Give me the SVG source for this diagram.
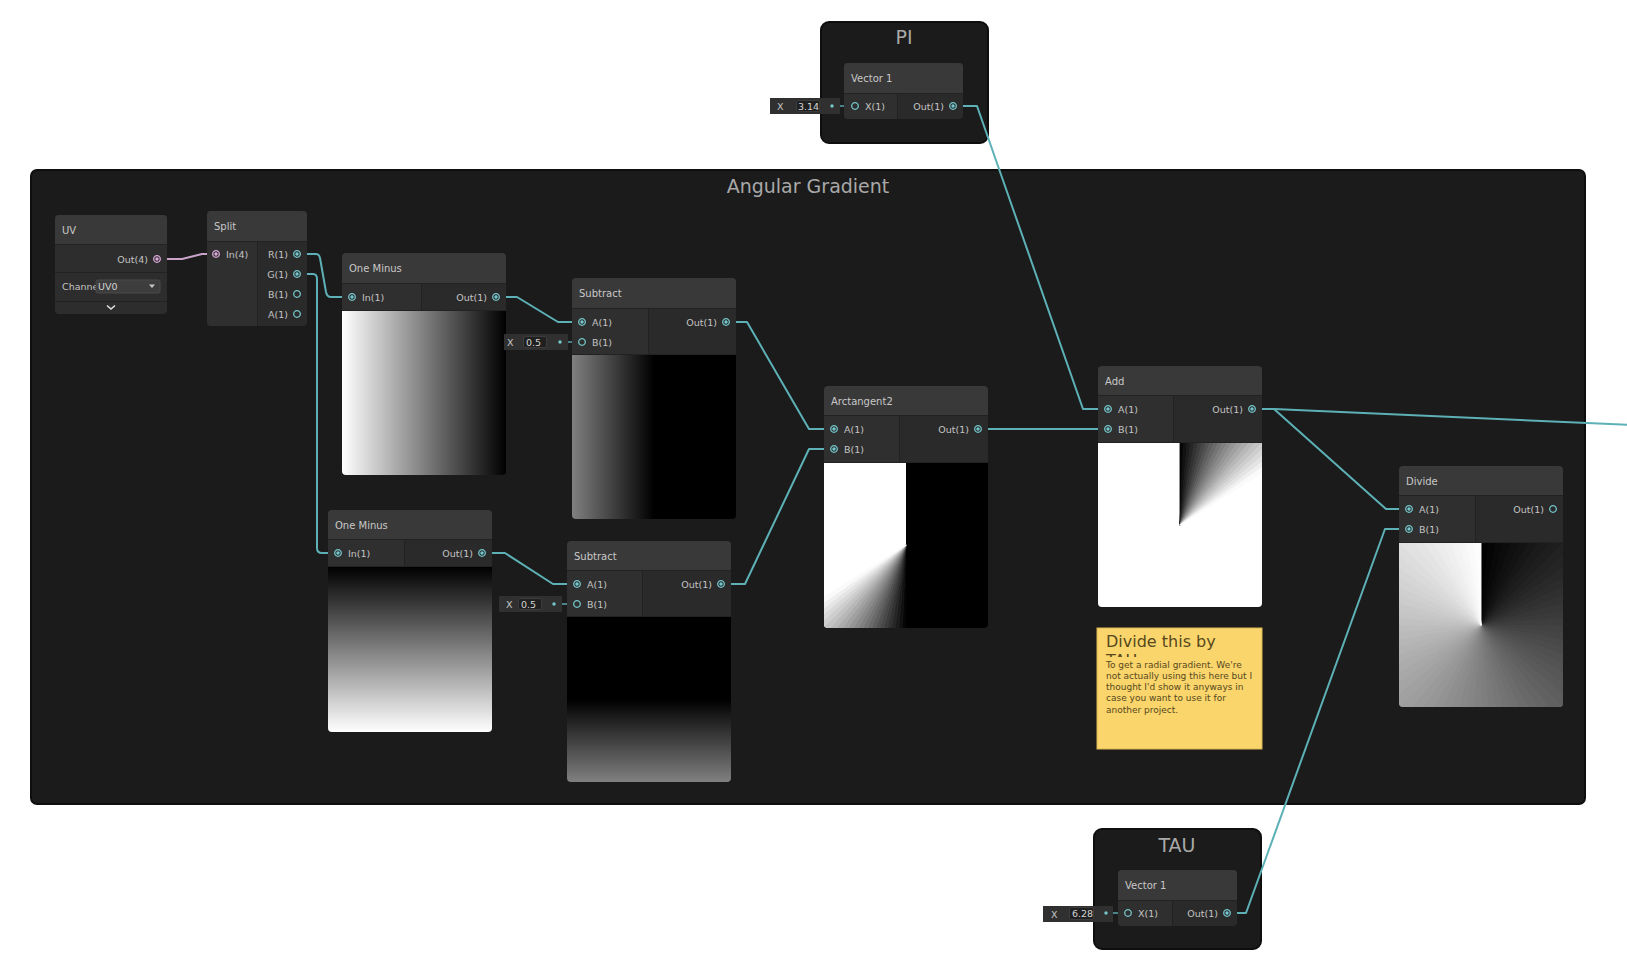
<svg xmlns="http://www.w3.org/2000/svg" xmlns:xlink="http://www.w3.org/1999/xlink" width="1627" height="970" viewBox="0 0 1627 970">
<style>
.grp{fill:#1b1b1b;stroke:#0e0e0e;stroke-width:2}
.gt{font-family:"DejaVu Sans",sans-serif;font-size:19px;fill:#a9a9a9;text-anchor:middle}
.hd{fill:#393939}
.ic{fill:#2f2f2f}
.oc{fill:#2a2a2a}
.bd{fill:#2d2d2d}
.sep{stroke:#222;stroke-width:1;fill:none}
.t{font-family:"DejaVu Sans",sans-serif;font-size:10px;fill:#c8c8c8}
.p{font-family:"DejaVu Sans",sans-serif;font-size:9.5px;fill:#c4c4c4}
.r{text-anchor:end}
.e{fill:none;stroke:#5db1b6;stroke-width:2;stroke-linejoin:round;stroke-linecap:round}
.es{fill:none;stroke:#5db1b6;stroke-width:1.4}
.pr{fill:none;stroke:#74c7cc;stroke-width:1.3}
.pd{fill:#74c7cc}
.fld{fill:#303030}
.fbx{fill:#202020;stroke:#3c3c3c;stroke-width:1}
.fv{font-family:"DejaVu Sans",sans-serif;font-size:9.5px;fill:#d4d4d4}
.st{font-family:"DejaVu Sans",sans-serif;fill:#56481c}
.wg{fill:currentColor;stroke:currentColor;stroke-width:0.9;stroke-linejoin:round}
</style>
<defs>
<g id="pc"><circle class="pr" r="3.3"/><circle class="pd" r="1.7"/></g>
<circle id="po" class="pr" r="3.3"/>
<g id="pp"><circle r="3.3" fill="none" stroke="#d8a8d8" stroke-width="1.3"/><circle r="1.7" fill="#d8a8d8"/></g>
<path id="w25" class="wg" d="M0 0L0 -200L8.72 -199.81Z"/>
<path id="w5" class="wg" d="M0 0L0 -200L17.43 -199.24Z"/>
<linearGradient id="gOM1" x1="0" y1="0" x2="1" y2="0"><stop offset="0" stop-color="#fff"/><stop offset="1" stop-color="#000"/></linearGradient>
<linearGradient id="gS1" x1="0" y1="0" x2="1" y2="0"><stop offset="0" stop-color="#808080"/><stop offset="0.5" stop-color="#000"/><stop offset="1" stop-color="#000"/></linearGradient>
<linearGradient id="gOM2" x1="0" y1="0" x2="0" y2="1"><stop offset="0" stop-color="#000"/><stop offset="1" stop-color="#fff"/></linearGradient>
<linearGradient id="gS2" x1="0" y1="0" x2="0" y2="1"><stop offset="0" stop-color="#000"/><stop offset="0.5" stop-color="#000"/><stop offset="1" stop-color="#808080"/></linearGradient>
<clipPath id="cAt"><path d="M824 463H988V624Q988 628 984 628H828Q824 628 824 624Z"/></clipPath>
<clipPath id="cAdd"><path d="M1098 443H1262V603Q1262 607 1258 607H1102Q1098 607 1098 603Z"/></clipPath>
<clipPath id="cDiv"><path d="M1399 543H1563V703Q1563 707 1559 707H1403Q1399 707 1399 703Z"/></clipPath>
<clipPath id="cCh"><rect x="55" y="272" width="41" height="29"/></clipPath>
<clipPath id="cTau"><rect x="1070" y="900" width="23" height="20"/></clipPath>
<clipPath id="cNote"><rect x="1097" y="628" width="165" height="29"/></clipPath>
</defs>

<rect width="1627" height="970" fill="#ffffff"/>

<g id="group-angular-gradient">
<rect class="grp" x="31" y="170" width="1554" height="634" rx="6"/>
<text class="gt" x="808" y="193">Angular Gradient</text>
</g>
<g id="group-pi">
<rect class="grp" x="821" y="22" width="167" height="121" rx="8"/>
<text class="gt" x="904" y="44">PI</text>
</g>
<g id="group-tau">
<rect class="grp" x="1094" y="829" width="167" height="120" rx="8"/>
<text class="gt" x="1177" y="852">TAU</text>
</g>

<g id="connectors">
<path d="M157 259H182L202 254H216" fill="none" stroke="#c9a3c9" stroke-width="2" stroke-linejoin="round"/>
<path class="e" d="M297 254H316Q319 254 320 258L326 292Q327 297 331 297H352"/>
<path class="e" d="M297 274H313Q317 274 317 279V548Q317 553 322 553H338"/>
<path class="e" d="M496 297H517L558 322H582"/>
<path class="e" d="M482 553H505L553 584H577"/>
<path class="e" d="M726 322H747L809 429H834"/>
<path class="e" d="M721 584H745L809 449H834"/>
<path class="e" d="M978 429H1108"/>
<path class="e" d="M953 106H977L1083 409H1108"/>
<path class="e" d="M1252 409H1274L1386 509H1409"/>
<path class="e" d="M1252 409H1274L1630 425"/>
<path class="e" d="M1227 913H1246L1385 529H1409"/>
<path class="es" d="M832 106H855"/>
<path class="es" d="M560 342H582"/>
<path class="es" d="M554 604H577"/>
<path class="es" d="M1106 913H1128"/>
</g>

<g id="node-uv">
<rect class="bd" x="55" y="215" width="112" height="99" rx="4"/>
<path class="hd" d="M55 244V219Q55 215 59 215H163Q167 215 167 219V244Z"/>
<path class="sep" d="M55 244.5H167M55 272.5H167M55 301.5H167"/>
<text class="t" x="62" y="234">UV</text>
<text class="p r" x="148" y="262.5">Out(4)</text>
<use href="#pp" x="157" y="259"/>
<text class="p" x="62" y="290" clip-path="url(#cCh)">Channel</text>
<rect x="96" y="280" width="64" height="13" rx="1.5" fill="#3d3d3d" stroke="#4a4a4a" stroke-width="1"/>
<text class="fv" x="98" y="290">UV0</text>
<polygon points="149,284.5 155,284.5 152,288" fill="#c8c8c8"/>
<polyline points="107,305.5 111,309 115,305.5" fill="none" stroke="#e0e0e0" stroke-width="1.6"/>
</g>

<g id="node-split">
<rect class="oc" x="207" y="211" width="100" height="115" rx="4"/>
<path class="hd" d="M207 241V215Q207 211 211 211H303Q307 211 307 215V241Z"/>
<path class="ic" d="M207 241H257V326H211Q207 326 207 322Z"/>
<path class="sep" d="M207 241.5H307M257.5 241V326"/>
<text class="t" x="214" y="230">Split</text>
<use href="#pp" x="216" y="254"/>
<text class="p" x="226" y="257.5">In(4)</text>
<text class="p r" x="288" y="257.5">R(1)</text>
<text class="p r" x="288" y="277.5">G(1)</text>
<text class="p r" x="288" y="297.5">B(1)</text>
<text class="p r" x="288" y="317.5">A(1)</text>
<use href="#pc" x="297" y="254"/>
<use href="#pc" x="297" y="274"/>
<use href="#po" x="297" y="294"/>
<use href="#po" x="297" y="314"/>
</g>

<g id="node-one-minus-1">
<path class="hd" d="M342 283V257Q342 253 346 253H502Q506 253 506 257V283Z"/>
<rect class="ic" x="342" y="283" width="79" height="28"/>
<rect class="oc" x="421" y="283" width="85" height="28"/>
<path class="sep" d="M342 283.5H506M421.5 283V311M342 310.5H506"/>
<path fill="url(#gOM1)" d="M342 311H506V471Q506 475 502 475H346Q342 475 342 471Z"/>
<text class="t" x="349" y="272">One Minus</text>
<use href="#pc" x="352" y="297"/>
<text class="p" x="362" y="300.5">In(1)</text>
<text class="p r" x="487" y="300.5">Out(1)</text>
<use href="#pc" x="496" y="297"/>
</g>

<g id="node-subtract-1">
<path class="hd" d="M572 308V282Q572 278 576 278H732Q736 278 736 282V308Z"/>
<rect class="ic" x="572" y="308" width="76" height="47"/>
<rect class="oc" x="648" y="308" width="88" height="47"/>
<path class="sep" d="M572 308.5H736M648.5 308V355M572 354.5H736"/>
<path fill="url(#gS1)" d="M572 355H736V515Q736 519 732 519H576Q572 519 572 515Z"/>
<text class="t" x="579" y="297">Subtract</text>
<use href="#pc" x="582" y="322"/>
<text class="p" x="592" y="325.5">A(1)</text>
<use href="#po" x="582" y="342"/>
<text class="p" x="592" y="345.5">B(1)</text>
<text class="p r" x="717" y="325.5">Out(1)</text>
<use href="#pc" x="726" y="322"/>
<rect class="fld" x="504" y="334" width="64" height="16"/>
<text class="p" x="507" y="345.5">X</text>
<rect class="fbx" x="523.5" y="336.5" width="23" height="11" rx="1.5"/>
<text class="fv" x="526" y="345.5">0.5</text>
<circle class="pd" cx="560" cy="342" r="1.7"/>
</g>

<g id="node-one-minus-2">
<path class="hd" d="M328 539V514Q328 510 332 510H488Q492 510 492 514V539Z"/>
<rect class="ic" x="328" y="539" width="76" height="28"/>
<rect class="oc" x="404" y="539" width="88" height="28"/>
<path class="sep" d="M328 539.5H492M404.5 539V567M328 566.5H492"/>
<path fill="url(#gOM2)" d="M328 567H492V728Q492 732 488 732H332Q328 732 328 728Z"/>
<text class="t" x="335" y="528.5">One Minus</text>
<use href="#pc" x="338" y="553"/>
<text class="p" x="348" y="556.5">In(1)</text>
<text class="p r" x="473" y="556.5">Out(1)</text>
<use href="#pc" x="482" y="553"/>
</g>

<g id="node-subtract-2">
<path class="hd" d="M567 570V545Q567 541 571 541H727Q731 541 731 545V570Z"/>
<rect class="ic" x="567" y="570" width="75" height="47"/>
<rect class="oc" x="642" y="570" width="89" height="47"/>
<path class="sep" d="M567 570.5H731M642.5 570V617M567 616.5H731"/>
<path fill="url(#gS2)" d="M567 617H731V778Q731 782 727 782H571Q567 782 567 778Z"/>
<text class="t" x="574" y="559.5">Subtract</text>
<use href="#pc" x="577" y="584"/>
<text class="p" x="587" y="587.5">A(1)</text>
<use href="#po" x="577" y="604"/>
<text class="p" x="587" y="607.5">B(1)</text>
<text class="p r" x="712" y="587.5">Out(1)</text>
<use href="#pc" x="721" y="584"/>
<rect class="fld" x="499" y="596" width="63" height="16"/>
<text class="p" x="506" y="607.5">X</text>
<rect class="fbx" x="518.5" y="598.5" width="23" height="11" rx="1.5"/>
<text class="fv" x="521" y="607.5">0.5</text>
<circle class="pd" cx="554" cy="604" r="1.7"/>
</g>

<g id="node-arctangent2">
<path class="hd" d="M824 415V390Q824 386 828 386H984Q988 386 988 390V415Z"/>
<rect class="ic" x="824" y="415" width="75" height="48"/>
<rect class="oc" x="899" y="415" width="89" height="48"/>
<path class="sep" d="M824 415.5H988M899.5 415V463M824 462.5H988"/>
<g clip-path="url(#cAt)">
<rect x="824" y="463" width="82" height="165" fill="#fff"/>
<rect x="906" y="463" width="82" height="165" fill="#000"/>
<g transform="translate(906,545)">
<use href="#w25" transform="rotate(180)" color="rgb(6,6,6)"/>
<use href="#w25" transform="rotate(182.5)" color="rgb(17,17,17)"/>
<use href="#w25" transform="rotate(185)" color="rgb(28,28,28)"/>
<use href="#w25" transform="rotate(187.5)" color="rgb(39,39,39)"/>
<use href="#w25" transform="rotate(190)" color="rgb(50,50,50)"/>
<use href="#w25" transform="rotate(192.5)" color="rgb(61,61,61)"/>
<use href="#w25" transform="rotate(195)" color="rgb(72,72,72)"/>
<use href="#w25" transform="rotate(197.5)" color="rgb(83,83,83)"/>
<use href="#w25" transform="rotate(200)" color="rgb(95,95,95)"/>
<use href="#w25" transform="rotate(202.5)" color="rgb(106,106,106)"/>
<use href="#w25" transform="rotate(205)" color="rgb(117,117,117)"/>
<use href="#w25" transform="rotate(207.5)" color="rgb(128,128,128)"/>
<use href="#w25" transform="rotate(210)" color="rgb(139,139,139)"/>
<use href="#w25" transform="rotate(212.5)" color="rgb(150,150,150)"/>
<use href="#w25" transform="rotate(215)" color="rgb(161,161,161)"/>
<use href="#w25" transform="rotate(217.5)" color="rgb(172,172,172)"/>
<use href="#w25" transform="rotate(220)" color="rgb(184,184,184)"/>
<use href="#w25" transform="rotate(222.5)" color="rgb(195,195,195)"/>
<use href="#w25" transform="rotate(225)" color="rgb(206,206,206)"/>
<use href="#w25" transform="rotate(227.5)" color="rgb(217,217,217)"/>
<use href="#w25" transform="rotate(230)" color="rgb(228,228,228)"/>
<use href="#w25" transform="rotate(232.5)" color="rgb(239,239,239)"/>
<use href="#w25" transform="rotate(235)" color="rgb(250,250,250)"/>
</g>
</g>
<text class="t" x="831" y="404.5">Arctangent2</text>
<use href="#pc" x="834" y="429"/>
<text class="p" x="844" y="432.5">A(1)</text>
<use href="#pc" x="834" y="449"/>
<text class="p" x="844" y="452.5">B(1)</text>
<text class="p r" x="969" y="432.5">Out(1)</text>
<use href="#pc" x="978" y="429"/>
</g>

<g id="node-add">
<path class="hd" d="M1098 395V370Q1098 366 1102 366H1258Q1262 366 1262 370V395Z"/>
<rect class="ic" x="1098" y="395" width="75" height="48"/>
<rect class="oc" x="1173" y="395" width="89" height="48"/>
<path class="sep" d="M1098 395.5H1262M1173.5 395V443M1098 442.5H1262"/>
<g clip-path="url(#cAdd)">
<rect x="1098" y="443" width="164" height="164" fill="#fff"/>
<g transform="translate(1180,525)">
<use href="#w25" transform="rotate(0)" color="rgb(6,6,6)"/>
<use href="#w25" transform="rotate(2.5)" color="rgb(17,17,17)"/>
<use href="#w25" transform="rotate(5)" color="rgb(28,28,28)"/>
<use href="#w25" transform="rotate(7.5)" color="rgb(39,39,39)"/>
<use href="#w25" transform="rotate(10)" color="rgb(50,50,50)"/>
<use href="#w25" transform="rotate(12.5)" color="rgb(61,61,61)"/>
<use href="#w25" transform="rotate(15)" color="rgb(72,72,72)"/>
<use href="#w25" transform="rotate(17.5)" color="rgb(83,83,83)"/>
<use href="#w25" transform="rotate(20)" color="rgb(95,95,95)"/>
<use href="#w25" transform="rotate(22.5)" color="rgb(106,106,106)"/>
<use href="#w25" transform="rotate(25)" color="rgb(117,117,117)"/>
<use href="#w25" transform="rotate(27.5)" color="rgb(128,128,128)"/>
<use href="#w25" transform="rotate(30)" color="rgb(139,139,139)"/>
<use href="#w25" transform="rotate(32.5)" color="rgb(150,150,150)"/>
<use href="#w25" transform="rotate(35)" color="rgb(161,161,161)"/>
<use href="#w25" transform="rotate(37.5)" color="rgb(172,172,172)"/>
<use href="#w25" transform="rotate(40)" color="rgb(184,184,184)"/>
<use href="#w25" transform="rotate(42.5)" color="rgb(195,195,195)"/>
<use href="#w25" transform="rotate(45)" color="rgb(206,206,206)"/>
<use href="#w25" transform="rotate(47.5)" color="rgb(217,217,217)"/>
<use href="#w25" transform="rotate(50)" color="rgb(228,228,228)"/>
<use href="#w25" transform="rotate(52.5)" color="rgb(239,239,239)"/>
<use href="#w25" transform="rotate(55)" color="rgb(250,250,250)"/>
</g>
</g>
<text class="t" x="1105" y="384.5">Add</text>
<use href="#pc" x="1108" y="409"/>
<text class="p" x="1118" y="412.5">A(1)</text>
<use href="#pc" x="1108" y="429"/>
<text class="p" x="1118" y="432.5">B(1)</text>
<text class="p r" x="1243" y="412.5">Out(1)</text>
<use href="#pc" x="1252" y="409"/>
</g>

<g id="node-divide">
<path class="hd" d="M1399 495V470Q1399 466 1403 466H1559Q1563 466 1563 470V495Z"/>
<rect class="ic" x="1399" y="495" width="76" height="48"/>
<rect class="oc" x="1475" y="495" width="88" height="48"/>
<path class="sep" d="M1399 495.5H1563M1475.5 495V543M1399 542.5H1563"/>
<g clip-path="url(#cDiv)">
<rect x="1399" y="543" width="164" height="164" fill="#808080"/>
<g transform="translate(1481,625)">
<use href="#w5" transform="rotate(0)" color="rgb(2,2,2)"/>
<use href="#w5" transform="rotate(5)" color="rgb(5,5,5)"/>
<use href="#w5" transform="rotate(10)" color="rgb(9,9,9)"/>
<use href="#w5" transform="rotate(15)" color="rgb(12,12,12)"/>
<use href="#w5" transform="rotate(20)" color="rgb(16,16,16)"/>
<use href="#w5" transform="rotate(25)" color="rgb(19,19,19)"/>
<use href="#w5" transform="rotate(30)" color="rgb(23,23,23)"/>
<use href="#w5" transform="rotate(35)" color="rgb(27,27,27)"/>
<use href="#w5" transform="rotate(40)" color="rgb(30,30,30)"/>
<use href="#w5" transform="rotate(45)" color="rgb(34,34,34)"/>
<use href="#w5" transform="rotate(50)" color="rgb(37,37,37)"/>
<use href="#w5" transform="rotate(55)" color="rgb(41,41,41)"/>
<use href="#w5" transform="rotate(60)" color="rgb(44,44,44)"/>
<use href="#w5" transform="rotate(65)" color="rgb(48,48,48)"/>
<use href="#w5" transform="rotate(70)" color="rgb(51,51,51)"/>
<use href="#w5" transform="rotate(75)" color="rgb(55,55,55)"/>
<use href="#w5" transform="rotate(80)" color="rgb(58,58,58)"/>
<use href="#w5" transform="rotate(85)" color="rgb(62,62,62)"/>
<use href="#w5" transform="rotate(90)" color="rgb(66,66,66)"/>
<use href="#w5" transform="rotate(95)" color="rgb(69,69,69)"/>
<use href="#w5" transform="rotate(100)" color="rgb(73,73,73)"/>
<use href="#w5" transform="rotate(105)" color="rgb(76,76,76)"/>
<use href="#w5" transform="rotate(110)" color="rgb(80,80,80)"/>
<use href="#w5" transform="rotate(115)" color="rgb(83,83,83)"/>
<use href="#w5" transform="rotate(120)" color="rgb(87,87,87)"/>
<use href="#w5" transform="rotate(125)" color="rgb(90,90,90)"/>
<use href="#w5" transform="rotate(130)" color="rgb(94,94,94)"/>
<use href="#w5" transform="rotate(135)" color="rgb(97,97,97)"/>
<use href="#w5" transform="rotate(140)" color="rgb(101,101,101)"/>
<use href="#w5" transform="rotate(145)" color="rgb(104,104,104)"/>
<use href="#w5" transform="rotate(150)" color="rgb(108,108,108)"/>
<use href="#w5" transform="rotate(155)" color="rgb(112,112,112)"/>
<use href="#w5" transform="rotate(160)" color="rgb(115,115,115)"/>
<use href="#w5" transform="rotate(165)" color="rgb(119,119,119)"/>
<use href="#w5" transform="rotate(170)" color="rgb(122,122,122)"/>
<use href="#w5" transform="rotate(175)" color="rgb(126,126,126)"/>
<use href="#w5" transform="rotate(180)" color="rgb(129,129,129)"/>
<use href="#w5" transform="rotate(185)" color="rgb(133,133,133)"/>
<use href="#w5" transform="rotate(190)" color="rgb(136,136,136)"/>
<use href="#w5" transform="rotate(195)" color="rgb(140,140,140)"/>
<use href="#w5" transform="rotate(200)" color="rgb(143,143,143)"/>
<use href="#w5" transform="rotate(205)" color="rgb(147,147,147)"/>
<use href="#w5" transform="rotate(210)" color="rgb(151,151,151)"/>
<use href="#w5" transform="rotate(215)" color="rgb(154,154,154)"/>
<use href="#w5" transform="rotate(220)" color="rgb(158,158,158)"/>
<use href="#w5" transform="rotate(225)" color="rgb(161,161,161)"/>
<use href="#w5" transform="rotate(230)" color="rgb(165,165,165)"/>
<use href="#w5" transform="rotate(235)" color="rgb(168,168,168)"/>
<use href="#w5" transform="rotate(240)" color="rgb(172,172,172)"/>
<use href="#w5" transform="rotate(245)" color="rgb(175,175,175)"/>
<use href="#w5" transform="rotate(250)" color="rgb(179,179,179)"/>
<use href="#w5" transform="rotate(255)" color="rgb(182,182,182)"/>
<use href="#w5" transform="rotate(260)" color="rgb(186,186,186)"/>
<use href="#w5" transform="rotate(265)" color="rgb(189,189,189)"/>
<use href="#w5" transform="rotate(270)" color="rgb(193,193,193)"/>
<use href="#w5" transform="rotate(275)" color="rgb(197,197,197)"/>
<use href="#w5" transform="rotate(280)" color="rgb(200,200,200)"/>
<use href="#w5" transform="rotate(285)" color="rgb(204,204,204)"/>
<use href="#w5" transform="rotate(290)" color="rgb(207,207,207)"/>
<use href="#w5" transform="rotate(295)" color="rgb(211,211,211)"/>
<use href="#w5" transform="rotate(300)" color="rgb(214,214,214)"/>
<use href="#w5" transform="rotate(305)" color="rgb(218,218,218)"/>
<use href="#w5" transform="rotate(310)" color="rgb(221,221,221)"/>
<use href="#w5" transform="rotate(315)" color="rgb(225,225,225)"/>
<use href="#w5" transform="rotate(320)" color="rgb(228,228,228)"/>
<use href="#w5" transform="rotate(325)" color="rgb(232,232,232)"/>
<use href="#w5" transform="rotate(330)" color="rgb(236,236,236)"/>
<use href="#w5" transform="rotate(335)" color="rgb(239,239,239)"/>
<use href="#w5" transform="rotate(340)" color="rgb(243,243,243)"/>
<use href="#w5" transform="rotate(345)" color="rgb(246,246,246)"/>
<use href="#w5" transform="rotate(350)" color="rgb(250,250,250)"/>
<use href="#w5" transform="rotate(355)" color="rgb(253,253,253)"/>
</g>
</g>
<text class="t" x="1406" y="484.5">Divide</text>
<use href="#pc" x="1409" y="509"/>
<text class="p" x="1419" y="512.5">A(1)</text>
<use href="#pc" x="1409" y="529"/>
<text class="p" x="1419" y="532.5">B(1)</text>
<text class="p r" x="1544" y="512.5">Out(1)</text>
<use href="#po" x="1553" y="509"/>
</g>

<g id="node-vector1-pi">
<rect class="oc" x="844" y="63" width="119" height="56" rx="4"/>
<path class="hd" d="M844 93V67Q844 63 848 63H959Q963 63 963 67V93Z"/>
<path class="ic" d="M844 93H897V119H848Q844 119 844 115Z"/>
<path class="sep" d="M844 93.5H963M897.5 93V119"/>
<text class="t" x="851" y="82">Vector 1</text>
<use href="#po" x="855" y="106"/>
<text class="p" x="865" y="109.5">X(1)</text>
<text class="p r" x="944" y="109.5">Out(1)</text>
<use href="#pc" x="953" y="106"/>
<rect class="fld" x="770" y="98" width="70" height="16"/>
<text class="p" x="777" y="109.5">X</text>
<rect class="fbx" x="796.5" y="100.5" width="23" height="11" rx="1.5"/>
<text class="fv" x="798" y="109.5">3.14</text>
<circle class="pd" cx="832" cy="106" r="1.7"/>
</g>

<g id="node-vector1-tau">
<rect class="oc" x="1118" y="870" width="119" height="56" rx="4"/>
<path class="hd" d="M1118 900V874Q1118 870 1122 870H1233Q1237 870 1237 874V900Z"/>
<path class="ic" d="M1118 900H1172V926H1122Q1118 926 1118 922Z"/>
<path class="sep" d="M1118 900.5H1237M1172.5 900V926"/>
<text class="t" x="1125" y="889">Vector 1</text>
<use href="#po" x="1128" y="913"/>
<text class="p" x="1138" y="916.5">X(1)</text>
<text class="p r" x="1218" y="916.5">Out(1)</text>
<use href="#pc" x="1227" y="913"/>
<rect class="fld" x="1043" y="906" width="70" height="16"/>
<text class="p" x="1051" y="917.5">X</text>
<rect class="fbx" x="1069.5" y="907.5" width="24" height="12" rx="1.5"/>
<text class="fv" x="1072" y="917" clip-path="url(#cTau)">6.28</text>
<circle class="pd" cx="1106" cy="913" r="1.7"/>
</g>

<g id="sticky-note">
<rect x="1097" y="628" width="165" height="121" fill="#fad56c" stroke="#dcb652" stroke-width="1"/>
<g clip-path="url(#cNote)">
<text class="st" x="1106" y="647" font-size="16">Divide this by</text>
<text class="st" x="1106" y="666" font-size="16">TAU</text>
</g>
<text class="st" font-size="9px" x="1106" y="667.5">To get a radial gradient. We're</text>
<text class="st" font-size="9px" x="1106" y="678.8">not actually using this here but I</text>
<text class="st" font-size="9px" x="1106" y="690">thought I'd show it anyways in</text>
<text class="st" font-size="9px" x="1106" y="701.3">case you want to use it for</text>
<text class="st" font-size="9px" x="1106" y="712.5">another project.</text>
</g>
</svg>
